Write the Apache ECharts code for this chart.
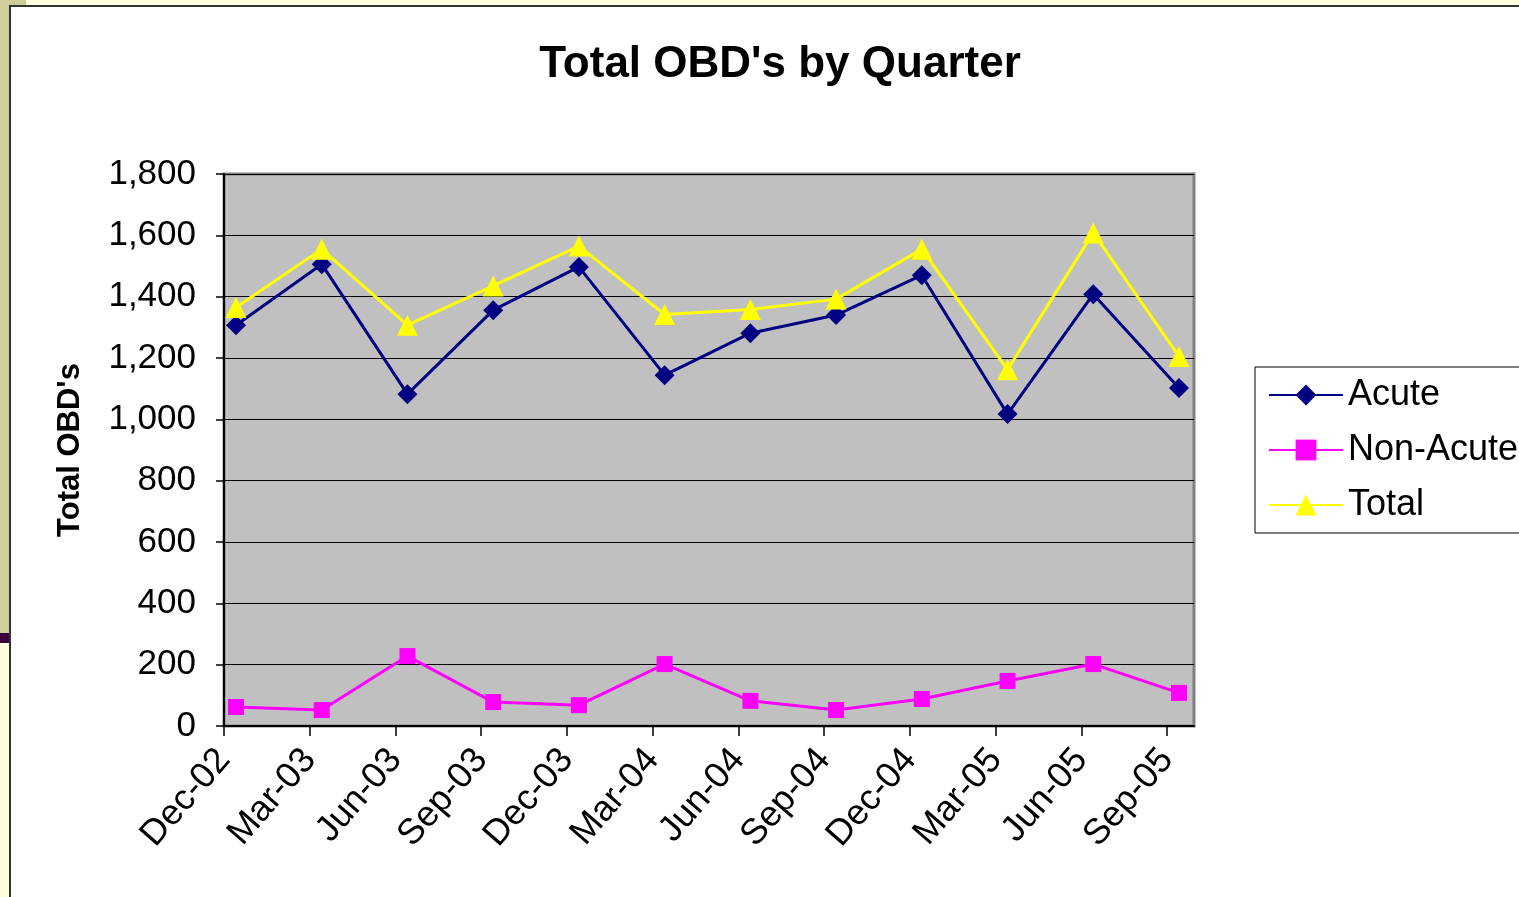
<!DOCTYPE html>
<html>
<head>
<meta charset="utf-8">
<script src="https://cdn.jsdelivr.net/npm/echarts@6/dist/echarts.min.js"></script>
<style>
  html, body { margin: 0; padding: 0; background: #fff; }
  #chart { width: 1519px; height: 897px; }
</style>
</head>
<body>
<div id="chart"></div>
<script>
var quarters = ['Dec-02', 'Mar-03', 'Jun-03', 'Sep-03', 'Dec-03', 'Mar-04', 'Jun-04', 'Sep-04', 'Dec-04', 'Mar-05', 'Jun-05', 'Sep-05'];
var acute = [1307, 1506, 1082, 1356, 1497, 1144, 1281, 1340, 1470, 1017, 1408, 1102];
var nonAcute = [62, 52, 228, 78, 68, 202, 82, 52, 88, 147, 202, 108];
var total = [1365, 1555, 1307, 1435, 1565, 1342, 1358, 1392, 1555, 1162, 1608, 1205];
var yTicks = [0, 200, 400, 600, 800, 1000, 1200, 1400, 1600, 1800];

// points sit a bit right of each quarter tick (date axis in the original)
var shift = 0.14;
function toPoints(arr) {
    return arr.map(function (v, i) { return [i + shift, v]; });
}
var tickIdx = quarters.map(function (q, i) { return i; });

var chart = echarts.init(document.getElementById('chart'));
var font = '"Liberation Sans", Arial, sans-serif';

var option = {
    backgroundColor: '#ffffff',
    animation: false,
    graphic: [
        {type: 'rect', shape: {x: 0, y: 0, width: 26, height: 6}, style: {fill: '#CFCD9B'}},
        {type: 'rect', shape: {x: 26, y: 0, width: 1493, height: 6}, style: {fill: '#FFFFE0'}},
        {type: 'rect', shape: {x: 0, y: 0, width: 9, height: 633}, style: {fill: '#CFCD9B'}},
        {type: 'rect', shape: {x: 0, y: 633, width: 9, height: 10}, style: {fill: '#3A0040'}},
        {type: 'rect', shape: {x: 0, y: 643, width: 9, height: 254}, style: {fill: '#FFFFDD'}},
        {type: 'rect', shape: {x: 9, y: 5, width: 2, height: 892}, style: {fill: '#333333'}},
        {type: 'rect', shape: {x: 9, y: 5, width: 1510, height: 2}, style: {fill: '#333333'}}
    ],
    title: {
        text: "Total OBD's by Quarter",
        left: 775,
        top: 38,
        textAlign: 'center',
        textStyle: {fontFamily: font, fontWeight: 'bold', fontSize: 44, color: '#000'}
    },
    legend: {
        orient: 'vertical',
        left: 1255,
        top: 367,
        padding: [10, 40, 10, 13],
        itemGap: 19,
        itemWidth: 74,
        itemHeight: 26,
        backgroundColor: '#ffffff',
        borderColor: '#000000',
        borderWidth: 1,
        textStyle: {fontFamily: font, fontSize: 36, color: '#000', lineHeight: 34, padding: [0, 0, 0, 0]},
        data: ['Acute', 'Non-Acute', 'Total']
    },
    grid: {
        left: 224,
        top: 174,
        width: 970,
        height: 552,
        show: true,
        backgroundColor: '#C0C0C0',
        borderColor: '#808080',
        borderWidth: 3
    },
    xAxis: {
        type: 'value',
        min: 0,
        max: 11.315,
        interval: 1,
        splitLine: {show: false},
        axisLine: {lineStyle: {color: '#000', width: 2}},
        axisTick: {show: true, length: 10, inside: false, customValues: tickIdx, lineStyle: {color: '#000', width: 1.5}},
        axisLabel: {
            customValues: tickIdx,
            rotate: 49,
            margin: 28,
            fontFamily: font,
            fontSize: 36,
            color: '#000',
            formatter: function (v) {
                return quarters[Math.round(v)] || '';
            }
        }
    },
    yAxis: {
        type: 'value',
        min: yTicks[0],
        max: yTicks[yTicks.length - 1],
        interval: yTicks[1] - yTicks[0],
        name: "Total OBD's",
        nameLocation: 'middle',
        nameGap: 138,
        nameTextStyle: {fontFamily: font, fontWeight: 'bold', fontSize: 31, color: '#000'},
        axisLine: {show: true, lineStyle: {color: '#000', width: 2}},
        axisTick: {show: true, length: 8, inside: false, lineStyle: {color: '#000', width: 1.5}},
        splitLine: {show: true, lineStyle: {color: '#000', width: 1.2}},
        axisLabel: {
            margin: 28,
            fontFamily: font,
            fontSize: 35,
            color: '#000',
            formatter: function (v) {
                return v.toLocaleString('en-US');
            }
        }
    },
    series: [
        {
            name: 'Acute',
            type: 'line',
            data: toPoints(acute),
            symbol: 'diamond',
            symbolSize: 20,
            color: '#000080',
            lineStyle: {color: '#000080', width: 3},
            itemStyle: {color: '#000080'}
        },
        {
            name: 'Non-Acute',
            type: 'line',
            data: toPoints(nonAcute),
            symbol: 'rect',
            symbolSize: 16,
            color: '#FF00FF',
            lineStyle: {color: '#FF00FF', width: 3},
            itemStyle: {color: '#FF00FF'}
        },
        {
            name: 'Total',
            type: 'line',
            data: toPoints(total),
            symbol: 'triangle',
            symbolSize: 21,
            color: '#FFFF00',
            lineStyle: {color: '#FFFF00', width: 3},
            itemStyle: {color: '#FFFF00'}
        }
    ]
};

chart.setOption(option);
</script>
</body>
</html>
